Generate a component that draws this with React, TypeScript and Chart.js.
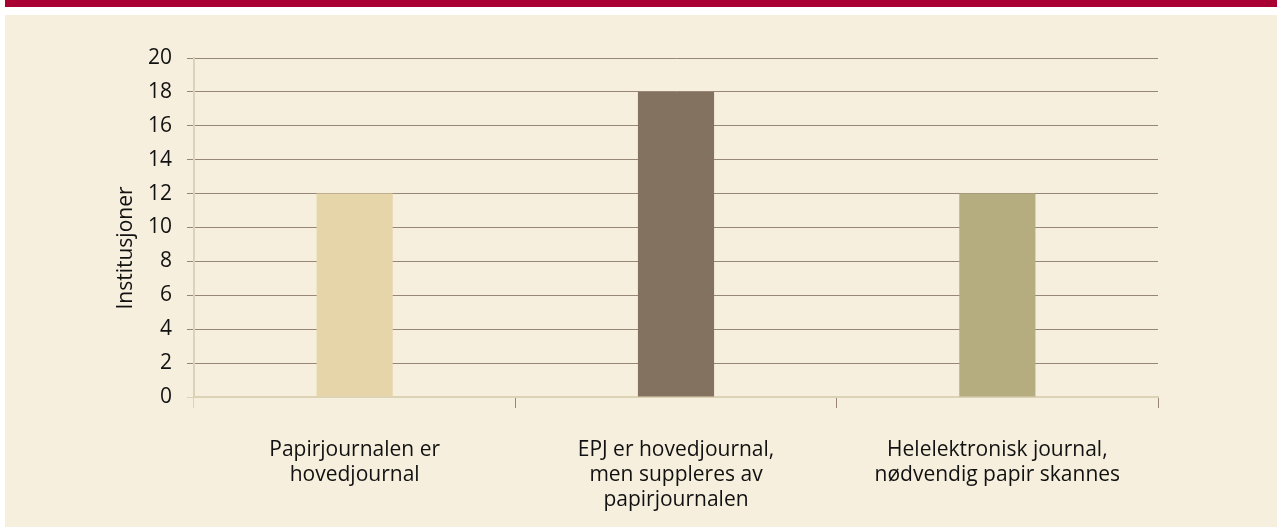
import { useEffect, useRef } from "react";
import { Chart, registerables } from "chart.js";

Chart.register(...registerables);

const categories: string[][] = [
  ["Papirjournalen er", "hovedjournal"],
  ["EPJ er hovedjournal,", "men suppleres av", "papirjournalen"],
  ["Helelektronisk journal,", "nødvendig papir skannes"],
];
const institusjoner: number[] = [12, 18, 12];
const barColors: string[] = ["#e5d5a9", "#847261", "#b5ad80"];
const yMin = 0;
const yMax = 20;
const yStep = 2;
const yAxisTitle = "Institusjoner";

const FONT = "'Open Sans', 'Noto Sans', sans-serif";
const BG = "#f6efdd";
const GRID_DARK = "#978676";
const AXIS_LIGHT = "#dcd2b6";
const TEXT = "#111111";

const W = 1272;
const H = 512;

export default function App() {
  const ref = useRef<HTMLCanvasElement | null>(null);

  useEffect(() => {
    if (!ref.current) return;
    const yTitlePlugin = {
      id: "yTitlePlugin",
      afterDraw(chart: any) {
        const ctx = chart.ctx;
        ctx.save();
        ctx.translate(121, 233);
        ctx.rotate(-Math.PI / 2);
        ctx.font = `21px ${FONT}`;
        ctx.fillStyle = TEXT;
        ctx.textAlign = "center";
        ctx.textBaseline = "middle";
        ctx.fillText(yAxisTitle, 0, 0);
        ctx.restore();
      },
    };
    const chart = new Chart(ref.current, {
      type: "bar",
      data: {
        labels: categories,
        datasets: [
          {
            data: institusjoner,
            backgroundColor: barColors,
            borderWidth: 0,
            barPercentage: 0.237,
            categoryPercentage: 1,
          },
        ],
      },
      options: {
        responsive: false,
        animation: false,
        devicePixelRatio: 1,
        layout: { padding: { left: 100, right: 119, top: 43, bottom: 0 } },
        plugins: {
          legend: { display: false },
          tooltip: { enabled: false },
          title: { display: false },
        },
        scales: {
          x: {
            offset: true,
            grid: {
              offset: true,
              drawOnChartArea: false,
              drawTicks: true,
              tickLength: 11,
              lineWidth: 1,
              color: (c: any) => (c.index === 0 ? AXIS_LIGHT : GRID_DARK),
            },
            border: { display: true, color: AXIS_LIGHT, width: 2 },
            ticks: {
              autoSkip: false,
              maxRotation: 0,
              minRotation: 0,
              padding: 29,
              color: TEXT,
              font: { family: FONT, size: 21, lineHeight: 1.2 },
            },
            afterFit: (s: any) => {
              s.height = 130;
            },
          },
          y: {
            min: yMin,
            max: yMax,
            ticks: {
              stepSize: yStep,
              padding: 15,
              color: TEXT,
              font: { family: FONT, size: 21 },
            },
            grid: {
              tickLength: 7,
              lineWidth: 1,
              color: (c: any) =>
                c.tick && c.tick.value === 0 ? AXIS_LIGHT : GRID_DARK,
            },
            border: { display: true, color: AXIS_LIGHT, width: 2 },
            afterFit: (s: any) => {
              s.width = 89;
            },
          },
        },
      },
      plugins: [yTitlePlugin],
    } as any);
    return () => chart.destroy();
  }, []);

  return (
    <div
      style={{
        position: "absolute",
        left: 0,
        top: 0,
        width: 1277,
        height: 527,
        background: "#ffffff",
        overflow: "hidden",
      }}
    >
      <div
        style={{
          position: "absolute",
          left: 5,
          top: 0,
          width: 1272,
          height: 7,
          background: "#a80032",
        }}
      />
      <div
        style={{
          position: "absolute",
          left: 5,
          top: 15,
          width: W,
          height: H,
          background: BG,
        }}
      >
        <canvas ref={ref} width={W} height={H} style={{ display: "block" }} />
      </div>
    </div>
  );
}
